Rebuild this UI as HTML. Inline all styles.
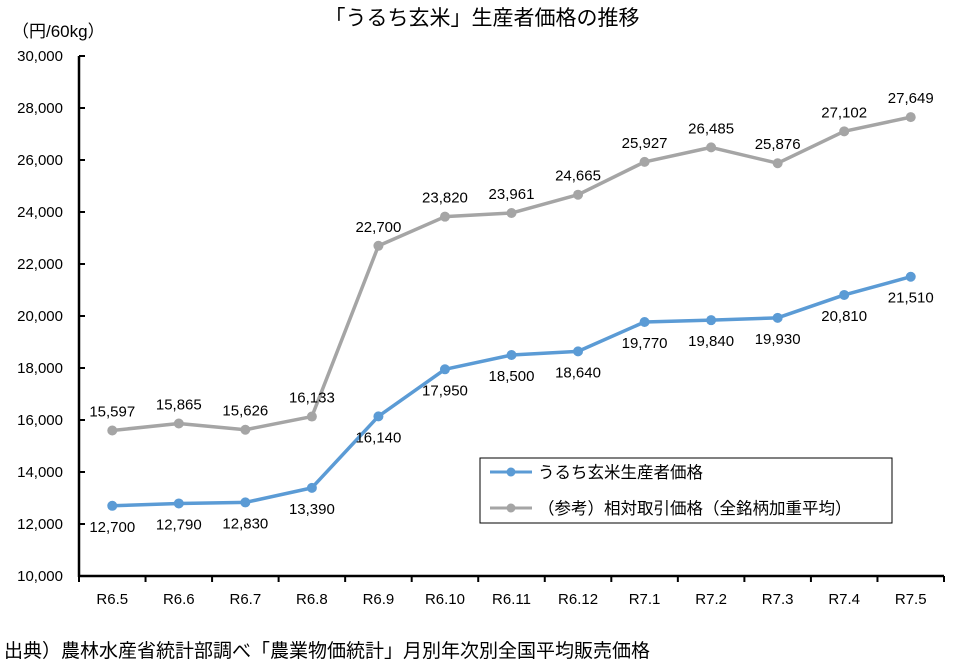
<!DOCTYPE html>
<html><head><meta charset="utf-8"><style>
html,body{margin:0;padding:0;background:#fff;}
svg text{font-family:"Liberation Sans","Noto Sans CJK JP",sans-serif;}
</style></head><body>
<svg width="964" height="663" viewBox="0 0 964 663" xmlns="http://www.w3.org/2000/svg">
<text x="482" y="25" text-anchor="middle" font-size="21" fill="#000">「うるち玄米」生産者価格の推移</text>
<text x="12" y="37" font-size="17" fill="#000">（円/60kg）</text>
<g id="yaxis"></g>
<g id="xaxis"></g>
<g id="series"></g>
<g>
<rect x="480" y="458" width="412" height="65" fill="#fff" stroke="#000" stroke-width="1"/>
<g>
<line x1="490" y1="472" x2="532" y2="472" stroke="#5B9BD5" stroke-width="3"/>
<circle cx="511" cy="472" r="4.5" fill="#5B9BD5"/>
<text x="538" y="478" font-size="16.5">うるち玄米生産者価格</text></g>
<g>
<line x1="490" y1="508" x2="532" y2="508" stroke="#A5A5A5" stroke-width="3"/>
<circle cx="511" cy="508" r="4.5" fill="#A5A5A5"/>
<text x="538" y="514" font-size="16.5">（参考）相対取引価格（全銘柄加重平均）</text></g>
</g>
<text x="4" y="657" font-size="19" fill="#000">出典）農林水産省統計部調べ「農業物価統計」月別年次別全国平均販売価格</text>
</svg>
<script>
const categories=["R6.5","R6.6","R6.7","R6.8","R6.9","R6.10","R6.11","R6.12","R7.1","R7.2","R7.3","R7.4","R7.5"];
const producerValues=[12700,12790,12830,13390,16140,17950,18500,18640,19770,19840,19930,20810,21510];
const relativeValues=[15597,15865,15626,16133,22700,23820,23961,24665,25927,26485,25876,27102,27649];
const yTicks=[10000,12000,14000,16000,18000,20000,22000,24000,26000,28000,30000];
const NS="http://www.w3.org/2000/svg";
const L=79,R=944,T=56,B=576,yMin=10000,yMax=30000;
const bw=(R-L)/categories.length;
function xPos(i){return L+bw*(i+0.5);}
function yPos(v){return B-(v-yMin)/(yMax-yMin)*(B-T);}
function mk(tag,attrs,parent){const e=document.createElementNS(NS,tag);for(const k in attrs)e.setAttribute(k,attrs[k]);parent.appendChild(e);return e;}
function fmt(v){return v.toLocaleString("en-US");}
const ya=document.getElementById("yaxis"),xa=document.getElementById("xaxis"),sg=document.getElementById("series");
const yl=mk("line",{x1:L,y1:T,x2:L,y2:B+1,stroke:"#000","stroke-width":2.5},ya);


yTicks.forEach(t=>{
 const y=yPos(t);
 const tk=mk("line",{x1:L,y1:y,x2:L+6,y2:y,stroke:"#000","stroke-width":2},ya);
 
 
 const tx=mk("text",{x:L-16,y:y+5,"text-anchor":"end","font-size":15},ya);
 tx.textContent=fmt(t);
 
 
});
const xl=mk("line",{x1:L,y1:B,x2:R,y2:B,stroke:"#000","stroke-width":2.5},xa);


for(let i=0;i<=categories.length;i++){
 const x=L+bw*i;
 const tk=mk("line",{x1:x,y1:B,x2:x,y2:B+6,stroke:"#000","stroke-width":2},xa);
 
 
}
categories.forEach((c,i)=>{
 const tx=mk("text",{x:xPos(i),y:B+28,"text-anchor":"middle","font-size":15},xa);
 tx.textContent=c;
 
 
});
function drawSeries(vals,color,name,above){
 const pts=vals.map((v,i)=>xPos(i)+","+yPos(v)).join(" ");
 const pl=mk("polyline",{points:pts,fill:"none",stroke:color,"stroke-width":3.5,"stroke-linejoin":"round"},sg);
 
 
 vals.forEach((v,i)=>{
  const c=mk("circle",{cx:xPos(i),cy:yPos(v),r:5,fill:color},sg);
  
  
  const t=mk("text",{x:xPos(i),y:yPos(v)+(above?-14:26),"text-anchor":"middle","font-size":15},sg);
  t.textContent=fmt(v);
  
  
 });
}
drawSeries(relativeValues,"#A5A5A5","relative-price",true);
drawSeries(producerValues,"#5B9BD5","producer-price",false);
</script>
</body></html>
